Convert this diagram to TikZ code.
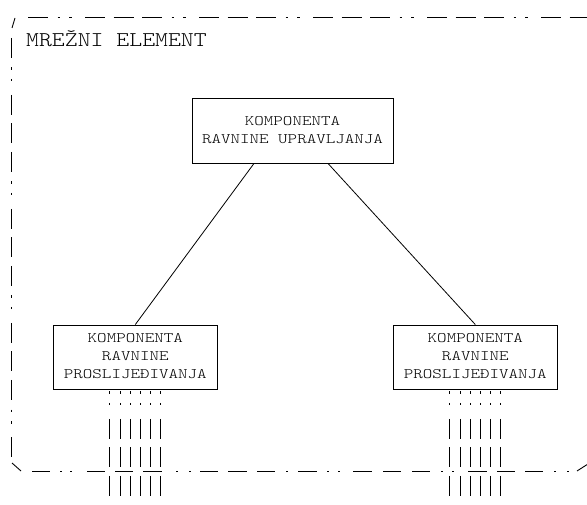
\documentclass[tikz,border=0pt]{standalone}
\newcommand\boxtext[1]{\scalebox{1.25}[1]{\begin{tabular}{@{}c@{}}#1\end{tabular}}}
\begin{document}
\begin{tikzpicture}[x=1pt,y=-1pt,
  box/.style={draw, line width=0.9pt, inner sep=0pt,
    font=\ttfamily\fontseries{l}\fontsize{14.5}{18}\selectfont},
  title/.style={anchor=base west, inner sep=0pt,
    font=\ttfamily\fontseries{l}\fontsize{21}{24}\selectfont},
  bord/.style={line width=0.9pt, dash pattern=on 20pt off 9.5pt on 2.5pt off 9pt on 2.5pt off 13.5pt on 20pt off 8.5pt on 20pt off 8.5pt},
  bordbottom/.style={line width=0.9pt, dash pattern=on 18pt off 10pt on 2pt off 8pt on 2pt off 15pt on 18pt off 10pt on 18pt off 10pt on 19pt off 14pt on 2pt off 11pt on 2pt off 9pt on 18pt off 10pt on 19pt off 10pt on 18pt off 11pt on 2pt off 10pt on 19pt off 10pt on 2pt off 9pt on 2pt off 13pt on 19pt off 11pt on 18pt off 11pt on 18pt off 11pt on 2pt off 9pt on 2pt off 14pt on 19pt off 10pt on 18pt off 10pt on 18pt off 11pt on 2pt off 11pt on 2pt off 20pt},
  bars/.style={bord, dash phase=29.5pt},
  link/.style={line width=0.8pt},
  corner/.style={line width=0.9pt}]
\useasboundingbox (0,0) rectangle (587,505);
\clip (0,0) rectangle (587,505);
% outer frame (dash-dot border)
\draw[bord] (28,17) -- (600,17);
\draw[bord] (11,38) -- (11,458);
\draw[bordbottom] (32,471) -- (570,471);
\draw[corner] (12,28) -- (15,18);
\draw[corner] (12,463) -- (21,471);
\draw[corner] (577,471) -- (588,464);
% nodes
\node[title] (title) at (26,47) {\scalebox{1.17}[1]{MREŽNI ELEMENT}};
\node[box, minimum width=201pt, minimum height=65pt] (cp) at (292.5,130.5)
  {\boxtext{KOMPONENTA\\RAVNINE UPRAVLJANJA}};
\node[box, minimum width=164pt, minimum height=64pt] (fl) at (135.3,357)
  {\boxtext{KOMPONENTA\\RAVNINE\\PROSLIJEĐIVANJA}};
\node[box, minimum width=164pt, minimum height=64pt] (fr) at (475.3,357)
  {\boxtext{KOMPONENTA\\RAVNINE\\PROSLIJEĐIVANJA}};
% connectors
\draw[link] ([xshift=-38.5pt]cp.south) -- (fl.north);
\draw[link] ([xshift=35.5pt]cp.south) -- (fr.north);
% interface bundles
\foreach \dx in {-25.5,-15.3,-5.1,5.1,15.3,25.5}{
  \draw[bars] ([xshift=\dx pt, yshift=-2pt]fl.south) -- ++(0,130);
  \draw[bars] ([xshift=\dx pt, yshift=-2pt]fr.south) -- ++(0,130);
}
\end{tikzpicture}
\end{document}
